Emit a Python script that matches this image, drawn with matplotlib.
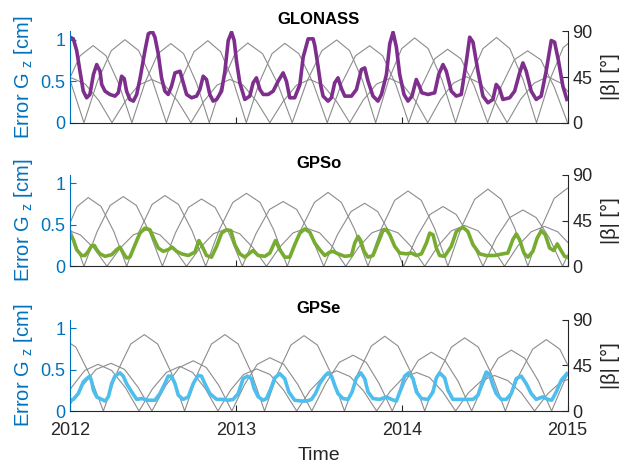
import numpy as np
import matplotlib
matplotlib.use('Agg')
import matplotlib.pyplot as plt

plt.rcParams['font.family'] = ['Liberation Sans', 'DejaVu Sans']
plt.rcParams['mathtext.default'] = 'regular'

year0 = 2012
year_ticks = [2012, 2013, 2014, 2015]

# ---- GLONASS: error of Gz (years after 2012, cm) ----
glo_t = [0.000, 0.020, 0.040, 0.060, 0.080, 0.100, 0.120, 0.141, 0.161, 0.181,
         0.191, 0.211, 0.241, 0.271, 0.291, 0.311, 0.327, 0.341, 0.361, 0.382,
         0.402, 0.422, 0.452, 0.472, 0.496, 0.512, 0.532, 0.552, 0.572, 0.592,
         0.612, 0.633, 0.663, 0.683, 0.703, 0.733, 0.763, 0.783, 0.803, 0.823,
         0.843, 0.863, 0.884, 0.914, 0.934, 0.954, 0.974, 0.990, 1.004, 1.024,
         1.054, 1.084, 1.104, 1.124, 1.145, 1.165, 1.195, 1.225, 1.255, 1.285,
         1.305, 1.325, 1.355, 1.386, 1.406, 1.436, 1.466, 1.476, 1.494, 1.512,
         1.526, 1.556, 1.576, 1.596, 1.616, 1.637, 1.657, 1.697, 1.727, 1.757,
         1.777, 1.797, 1.827, 1.857, 1.878, 1.908, 1.928, 1.948, 1.968, 1.988,
         2.014, 2.038, 2.062, 2.088, 2.102, 2.122, 2.159, 2.199, 2.223, 2.249,
         2.269, 2.299, 2.329, 2.359, 2.390, 2.410, 2.430, 2.460, 2.490, 2.520,
         2.550, 2.570, 2.590, 2.610, 2.651, 2.681, 2.711, 2.731, 2.751, 2.781,
         2.811, 2.841, 2.871, 2.902, 2.922, 2.946, 2.972, 2.996]
glo_err = [1.03, 1.01, 0.87, 0.62, 0.38, 0.30, 0.34, 0.58, 0.70, 0.62,
           0.46, 0.38, 0.34, 0.32, 0.36, 0.56, 0.53, 0.38, 0.28, 0.26,
           0.34, 0.53, 0.87, 1.07, 1.10, 1.03, 0.83, 0.54, 0.38, 0.34,
           0.44, 0.60, 0.62, 0.48, 0.34, 0.30, 0.32, 0.40, 0.56, 0.52,
           0.34, 0.26, 0.28, 0.38, 0.62, 0.99, 1.09, 0.99, 0.74, 0.48,
           0.28, 0.32, 0.48, 0.54, 0.40, 0.34, 0.34, 0.38, 0.50, 0.60,
           0.50, 0.30, 0.30, 0.46, 0.79, 1.01, 1.01, 0.93, 0.70, 0.45,
           0.32, 0.26, 0.30, 0.48, 0.54, 0.41, 0.32, 0.32, 0.40, 0.64,
           0.66, 0.50, 0.32, 0.26, 0.34, 0.58, 0.95, 1.09, 0.91, 0.58,
           0.34, 0.26, 0.32, 0.52, 0.46, 0.36, 0.34, 0.36, 0.58, 0.70,
           0.62, 0.38, 0.32, 0.34, 0.74, 1.03, 0.97, 0.62, 0.32, 0.24,
           0.28, 0.46, 0.41, 0.28, 0.30, 0.38, 0.60, 0.72, 0.62, 0.38,
           0.28, 0.32, 0.62, 0.99, 0.97, 0.74, 0.44, 0.28]

# GLONASS |beta| of the three planes (years after 2012, deg)
glo_b1_t = [-0.096, -0.018, 0.061, 0.139, 0.217, 0.295, 0.373, 0.451, 0.530, 0.608,
            0.685, 0.763, 0.840, 0.917, 0.995, 1.072, 1.161, 1.251, 1.340, 1.429,
            1.519, 1.608, 1.686, 1.765, 1.843, 1.921, 2.000, 2.078, 2.160, 2.243,
            2.325, 2.407, 2.490, 2.572, 2.652, 2.733, 2.813, 2.893, 2.974, 3.054]
glo_b1 = [0, 38, 66, 76, 66, 38, 0, 39, 68, 78,
          68, 39, 0, 39, 68, 78.5, 68, 39, 0, 41,
          71, 81.5, 71, 41, 0, 42, 73, 83.5, 73, 42,
          0, 42, 73, 84, 73, 42, 0, 42, 74, 85]
glo_b2_t = [-0.163, -0.081, 0.002, 0.084, 0.166, 0.249, 0.331, 0.414, 0.498, 0.581,
            0.664, 0.748, 0.831, 0.908, 0.986, 1.063, 1.140, 1.218, 1.295, 1.380,
            1.466, 1.551, 1.636, 1.722, 1.807, 1.885, 1.964, 2.042, 2.120, 2.199,
            2.277, 2.357, 2.438, 2.518, 2.598, 2.679, 2.759, 2.839, 2.920, 3.000]
glo_b2 = [82, 71, 41, 0, 41, 71, 81.8, 71, 41, 0,
          40, 70, 80.8, 70, 40, 0, 39, 68, 78.2, 68,
          39, 0, 38, 66, 75.8, 66, 38, 0, 36, 63,
          72.4, 63, 36, 0, 35, 62, 70.8, 62, 35, 0]
glo_b3_t = [-0.068, 0.012, 0.092, 0.173, 0.253, 0.333, 0.412, 0.492, 0.571, 0.650,
            0.729, 0.807, 0.886, 0.964, 1.044, 1.125, 1.205, 1.285, 1.366, 1.446,
            1.526, 1.607, 1.687, 1.767, 1.848, 1.928, 2.004, 2.081, 2.157, 2.235,
            2.312, 2.390, 2.472, 2.554, 2.636, 2.717, 2.799, 2.880, 2.960, 3.040]
glo_b3 = [38, 44, 38, 22, 0, 21, 37, 42.6, 37, 21,
          0, 21, 37, 42.6, 37, 21, 0, 21, 37, 42.6,
          37, 21, 0, 22, 38, 43.6, 38, 22, 0, 23,
          39, 45.3, 39, 23, 0, 23, 39, 45.3, 39, 23]

# ---- GPS old ----
gpso_t = [0.000, 0.020, 0.040, 0.070, 0.090, 0.110, 0.131, 0.147, 0.161, 0.181,
          0.211, 0.251, 0.281, 0.301, 0.321, 0.341, 0.361, 0.392, 0.422, 0.452,
          0.482, 0.508, 0.532, 0.562, 0.592, 0.616, 0.643, 0.673, 0.713, 0.753,
          0.777, 0.797, 0.823, 0.853, 0.884, 0.914, 0.944, 0.970, 0.994, 1.024,
          1.054, 1.084, 1.104, 1.135, 1.175, 1.205, 1.239, 1.265, 1.295, 1.325,
          1.355, 1.386, 1.416, 1.446, 1.476, 1.506, 1.536, 1.566, 1.586, 1.616,
          1.657, 1.697, 1.717, 1.737, 1.753, 1.773, 1.797, 1.827, 1.857, 1.887,
          1.908, 1.928, 1.958, 1.988, 2.028, 2.058, 2.089, 2.119, 2.149, 2.169,
          2.189, 2.209, 2.229, 2.259, 2.299, 2.330, 2.369, 2.399, 2.430, 2.470,
          2.510, 2.560, 2.610, 2.640, 2.670, 2.691, 2.711, 2.737, 2.761, 2.791,
          2.817, 2.842, 2.866, 2.892, 2.917, 2.938, 2.958, 2.982, 2.996]
gpso_err = [0.38, 0.32, 0.20, 0.13, 0.13, 0.18, 0.25, 0.25, 0.20, 0.15,
            0.12, 0.14, 0.20, 0.23, 0.16, 0.10, 0.11, 0.26, 0.40, 0.46,
            0.44, 0.32, 0.22, 0.18, 0.20, 0.23, 0.18, 0.15, 0.13, 0.17,
            0.31, 0.24, 0.13, 0.11, 0.24, 0.40, 0.44, 0.43, 0.26, 0.15,
            0.11, 0.16, 0.19, 0.13, 0.12, 0.16, 0.31, 0.20, 0.11, 0.11,
            0.26, 0.40, 0.45, 0.41, 0.28, 0.20, 0.13, 0.17, 0.18, 0.15,
            0.12, 0.13, 0.28, 0.36, 0.31, 0.18, 0.11, 0.13, 0.28, 0.43,
            0.44, 0.38, 0.24, 0.16, 0.15, 0.16, 0.13, 0.15, 0.28, 0.40,
            0.38, 0.22, 0.13, 0.12, 0.24, 0.42, 0.47, 0.42, 0.26, 0.15,
            0.13, 0.13, 0.15, 0.16, 0.32, 0.39, 0.32, 0.16, 0.11, 0.18,
            0.34, 0.43, 0.38, 0.22, 0.19, 0.27, 0.20, 0.12, 0.11]

gpso_b1_t = [-0.090, -0.023, 0.043, 0.110, 0.187, 0.265, 0.342, 0.419, 0.495, 0.572,
             0.654, 0.736, 0.818, 0.900, 0.982, 1.064, 1.146, 1.228, 1.310, 1.392,
             1.474, 1.556, 1.636, 1.717, 1.797, 1.877, 1.958, 2.038, 2.118, 2.199,
             2.279, 2.359, 2.440, 2.520, 2.600, 2.681, 2.761, 2.841, 2.920, 3.000]
gpso_b1 = [0, 34, 59, 67.7, 59, 34, 0, 35, 61, 69.7,
           61, 35, 0, 36, 63, 71.9, 63, 36, 0, 36,
           63, 72.8, 63, 36, 0, 37, 65, 74.2, 65, 37,
           0, 38, 66, 76.1, 66, 38, 0, 38, 67, 77]
gpso_b2_t = [-0.151, -0.073, 0.006, 0.084, 0.163, 0.242, 0.321, 0.400, 0.478, 0.557,
             0.636, 0.714, 0.793, 0.875, 0.957, 1.039, 1.121, 1.203, 1.285, 1.367,
             1.448, 1.530, 1.612, 1.695, 1.777, 1.855, 1.934, 2.012, 2.091, 2.170,
             2.249, 2.329, 2.410, 2.490, 2.570, 2.651, 2.731, 2.811, 2.890, 2.970,
             3.048]
gpso_b2 = [70, 61, 35, 0, 34, 60, 68.7, 60, 34, 0,
           33, 58, 66.3, 58, 33, 0, 32, 56, 63.8, 56,
           32, 0, 31, 54, 62.1, 54, 31, 0, 29, 51,
           58.9, 51, 29, 0, 28, 48, 55.5, 48, 28, 0,
           27]
gpso_b3_t = [-0.098, -0.018, 0.062, 0.143, 0.223, 0.303, 0.382, 0.462, 0.542, 0.623,
             0.703, 0.783, 0.864, 0.944, 1.024, 1.105, 1.185, 1.265, 1.346, 1.426,
             1.505, 1.584, 1.663, 1.741, 1.820, 1.898, 1.978, 2.059, 2.139, 2.219,
             2.300, 2.380, 2.460, 2.540, 2.620, 2.700, 2.781, 2.861, 2.941, 3.022]
gpso_b3 = [31, 36, 31, 18, 0, 18, 31, 35.9, 31, 18,
           0, 18, 32, 36.9, 32, 18, 0, 19, 33, 37.6,
           33, 19, 0, 19, 33, 37.6, 33, 19, 0, 20,
           35, 40.2, 35, 20, 0, 20, 34, 39.3, 34, 20]

# ---- GPS eclipsing ----
gpse_t = [0.000, 0.020, 0.050, 0.080, 0.100, 0.120, 0.131, 0.141, 0.161, 0.191,
          0.211, 0.231, 0.251, 0.271, 0.301, 0.321, 0.341, 0.372, 0.402, 0.432,
          0.472, 0.512, 0.542, 0.572, 0.592, 0.612, 0.633, 0.653, 0.683, 0.713,
          0.743, 0.773, 0.793, 0.813, 0.843, 0.884, 0.924, 0.954, 0.984, 1.014,
          1.044, 1.070, 1.094, 1.110, 1.135, 1.165, 1.185, 1.211, 1.235, 1.265,
          1.295, 1.319, 1.355, 1.396, 1.426, 1.456, 1.480, 1.506, 1.536, 1.556,
          1.577, 1.596, 1.616, 1.646, 1.677, 1.701, 1.727, 1.753, 1.777, 1.797,
          1.827, 1.867, 1.908, 1.938, 1.968, 1.998, 2.018, 2.042, 2.068, 2.089,
          2.119, 2.159, 2.189, 2.209, 2.229, 2.259, 2.279, 2.309, 2.349, 2.390,
          2.430, 2.460, 2.490, 2.510, 2.530, 2.550, 2.570, 2.601, 2.631, 2.661,
          2.691, 2.721, 2.751, 2.781, 2.811, 2.851, 2.881, 2.905, 2.932, 2.962,
          2.996]
gpse_err = [0.13, 0.14, 0.21, 0.35, 0.39, 0.42, 0.35, 0.25, 0.17, 0.14,
            0.12, 0.17, 0.33, 0.42, 0.46, 0.42, 0.33, 0.23, 0.14, 0.15,
            0.13, 0.13, 0.21, 0.33, 0.42, 0.42, 0.33, 0.19, 0.14, 0.17,
            0.33, 0.43, 0.42, 0.33, 0.21, 0.14, 0.14, 0.13, 0.14, 0.21,
            0.39, 0.42, 0.39, 0.27, 0.17, 0.13, 0.15, 0.27, 0.40, 0.45,
            0.39, 0.23, 0.13, 0.12, 0.12, 0.14, 0.21, 0.33, 0.42, 0.46,
            0.42, 0.31, 0.21, 0.15, 0.14, 0.23, 0.40, 0.46, 0.39, 0.23,
            0.15, 0.14, 0.17, 0.14, 0.12, 0.28, 0.42, 0.46, 0.39, 0.23,
            0.15, 0.14, 0.23, 0.40, 0.46, 0.40, 0.25, 0.14, 0.14, 0.14,
            0.14, 0.19, 0.37, 0.47, 0.44, 0.31, 0.21, 0.14, 0.14, 0.21,
            0.39, 0.42, 0.33, 0.21, 0.14, 0.17, 0.14, 0.13, 0.23, 0.37,
            0.45]

gpse_b1_t = [-0.048, 0.035, 0.118, 0.201, 0.283, 0.366, 0.448, 0.529, 0.610, 0.691,
             0.772, 0.853, 0.934, 1.014, 1.093, 1.173, 1.252, 1.332, 1.411, 1.492,
             1.574, 1.655, 1.736, 1.817, 1.898, 1.978, 2.059, 2.139, 2.219, 2.300,
             2.380, 2.462, 2.543, 2.625, 2.707, 2.790, 2.872, 2.953, 3.033]
gpse_b1 = [72, 63, 36, 0, 38, 66, 75.3, 66, 38, 0,
           38, 66, 75.3, 66, 38, 0, 37, 65, 74.3, 65,
           37, 0, 37, 64, 73.7, 64, 37, 0, 36, 63,
           72.1, 63, 36, 0, 35, 61, 70.4, 61, 35]
gpse_b2_t = [-0.024, 0.066, 0.157, 0.247, 0.329, 0.412, 0.494, 0.577, 0.660, 0.743,
             0.821, 0.898, 0.976, 1.052, 1.129, 1.205, 1.289, 1.374, 1.458, 1.541,
             1.624, 1.707, 1.786, 1.864, 1.943, 2.022, 2.100, 2.179, 2.260, 2.341,
             2.422, 2.502, 2.581, 2.661, 2.742, 2.823, 2.904, 2.984, 3.064]
gpse_b2 = [0, 23, 41, 47, 41, 23, 0, 25, 43, 49.5,
           43, 25, 0, 26, 46, 52.5, 46, 26, 0, 27,
           48, 55, 48, 27, 0, 29, 50, 58, 50, 29,
           0, 30, 52, 60, 52, 30, 0, 31, 54]
gpse_b3_t = [-0.072, 0.008, 0.089, 0.169, 0.251, 0.334, 0.416, 0.498, 0.581, 0.663,
             0.739, 0.816, 0.892, 0.970, 1.047, 1.125, 1.206, 1.286, 1.367, 1.447,
             1.528, 1.608, 1.688, 1.769, 1.849, 1.929, 2.010, 2.090, 2.168, 2.247,
             2.325, 2.403, 2.482, 2.560, 2.640, 2.721, 2.801, 2.881, 2.962, 3.042]
gpse_b3 = [0, 23, 40, 46, 40, 23, 0, 22, 38, 44,
           38, 22, 0, 21, 36, 41.5, 36, 21, 0, 20,
           34, 39.6, 34, 20, 0, 19, 33, 38, 33, 19,
           0, 18, 30, 35, 30, 18, 0, 17, 29, 33]

blue = '#0072BD'
dark = '#262626'
grey = '#8c8c8c'

panels = [
    ('GLONASS', glo_t, glo_err, '#7E2F8E',
     [(glo_b1_t, glo_b1), (glo_b2_t, glo_b2), (glo_b3_t, glo_b3)], 0.7373),
    ('GPSo', gpso_t, gpso_err, '#77AC30',
     [(gpso_b1_t, gpso_b1), (gpso_b2_t, gpso_b2), (gpso_b3_t, gpso_b3)], 0.4298),
    ('GPSe', gpse_t, gpse_err, '#4DBEEE',
     [(gpse_b1_t, gpse_b1), (gpse_b2_t, gpse_b2), (gpse_b3_t, gpse_b3)], 0.1199),
]

fig = plt.figure(figsize=(6.28, 4.67), dpi=100)

for i, (name, t, err, col, betas, bottom) in enumerate(panels):
    ax = fig.add_axes([0.1115, bottom, 0.7922, 0.1955])
    axr = ax.twinx()

    # beta angles on the right axis, error on the left one (drawn on top)
    for bt, bv in betas:
        axr.plot(year0 + np.array(bt), bv, color=grey, lw=0.8)
    ax.plot(year0 + np.array(t), err, color=col, lw=2.6, solid_joinstyle='round')
    ax.set_zorder(axr.get_zorder() + 1)
    ax.patch.set_visible(False)

    ax.set_xlim(2012, 2015)
    ax.set_ylim(0, 1.1)
    axr.set_ylim(0, 90)
    ax.set_yticks([0, 0.5, 1])
    ax.set_yticklabels(['0', '0.5', '1'])
    axr.set_yticks([0, 45, 90])
    ax.set_xticks(year_ticks)

    ax.tick_params(axis='y', colors=blue, direction='in', length=4, labelsize=13)
    ax.tick_params(axis='x', colors=dark, direction='in', length=4, labelsize=13, pad=8)
    axr.tick_params(axis='y', colors=dark, direction='in', length=4, labelsize=13)

    for s in ['top', 'right']:
        ax.spines[s].set_visible(False)
    for s in ['top', 'left', 'bottom']:
        axr.spines[s].set_visible(False)
    ax.spines['left'].set_color(blue)
    ax.spines['bottom'].set_color(dark)
    axr.spines['right'].set_color(dark)

    ax.set_ylabel('Error G $_z$ [cm]', color=blue, fontsize=14.5, labelpad=4)
    axr.set_ylabel('|β| [°]', color=dark, fontsize=14.5, labelpad=6)
    ax.set_title(name, fontweight='bold', fontsize=12, pad=5)

    if i == 2:
        ax.set_xticklabels([str(y) for y in year_ticks])
        ax.set_xlabel('Time', fontsize=14, color=dark, labelpad=6)
    else:
        ax.tick_params(axis='x', labelbottom=False)

fig.savefig('out.png', dpi=100)
